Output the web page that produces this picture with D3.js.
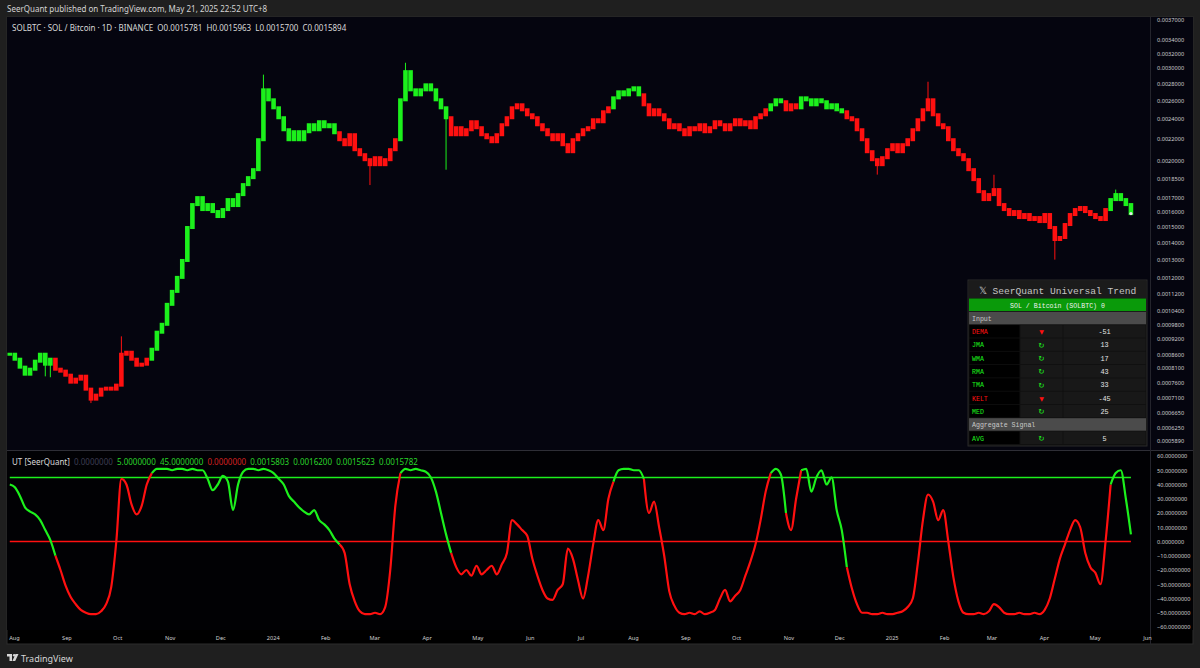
<!DOCTYPE html>
<html lang="en">
<head>
<meta charset="UTF-8">
<title>SOLBTC - SeerQuant Universal Trend</title>
<script src="https://d3js.org/d3.v7.min.js"></script>
<style>
    body {
        margin: 0;
        padding: 0;
        background-color: #1f1f1f;
        overflow: hidden;
    }
    svg { display: block; }
    text { font-family: "Noto Sans", "Liberation Sans", sans-serif; }
    .mono text { font-family: "Liberation Mono", "DejaVu Sans Mono", monospace; }
</style>
</head>
<body>
<script>
// ---- data ----
// 3-day candles starting 2023-07-28, closes in units of 1e-7 BTC
const candleStart = "2023-07-28";
const candleStepDays = 3;
const closes = [
    8602, 8417, 8130, 7885, 8058, 8345, 8602, 8236, 8417, 8058,
    7990, 7850, 7615, 7715, 7815, 7386, 7071, 7195, 7386, 7418,
    7386, 7516, 8602, 8677, 8417, 8200, 8236, 8417, 8791, 9470,
    9803, 10695, 11318, 12030, 12953, 14955, 16531, 17040, 16175, 16531,
    16035, 15690, 16175, 16895, 16460, 17267, 18036, 18594, 19253, 21941,
    27279, 26116, 25220, 24150, 22917, 21941, 22720, 21941, 22720, 23422,
    22917, 23730, 23220, 23422, 22620, 21941, 21468, 22424, 21006, 20553,
    20110, 19677, 20285, 19677, 20110, 21006, 21941, 26116, 29530, 27279,
    26691, 27279, 27880, 27279, 26116, 25220, 24150, 22424, 23120, 22424,
    22917, 23730, 23120, 22424, 22130, 21750, 22424, 23422, 24150, 25220,
    25553, 25003, 24464, 24150, 23422, 22917, 22424, 21941, 22424, 21468,
    20823, 21941, 22424, 22917, 23120, 23937, 23730, 24785, 25220, 26340,
    27040, 26691, 27279, 27520, 26691, 25553, 24464, 25003, 24464, 23937,
    23120, 23422, 22917, 22424, 23120, 22917, 23422, 22720, 23120, 23730,
    23422, 22917, 23422, 23937, 23422, 23730, 23120, 24150, 24464, 25003,
    25553, 26116, 25895, 25003, 25553, 25220, 26340, 26116, 25553, 26116,
    25895, 25220, 25553, 25003, 24785, 24150, 23937, 22917, 21941, 20823,
    20110, 19677, 20285, 21006, 21468, 20823, 21468, 21941, 22917, 23937,
    25003, 26116, 24464, 23422, 23120, 21941, 21006, 20553, 20110, 19253,
    18433, 17490, 16895, 17267, 17647, 16531, 16175, 15827, 16035, 15620,
    15827, 15486, 15620, 15350, 15827, 14955, 14194, 14318, 15152, 15827,
    16175, 16320, 16035, 15827, 15620, 15486, 16175, 16895, 17267, 16895,
    16531, 15894
];
// [candle index, wick extreme] for the visible long wicks
const wickSpikes = [
    [7, 7810], [8, 7780], [16, 6950], [22, 9300], [50, 29150], [71, 18000],
    [78, 30700], [86, 19250], [171, 18840], [181, 28260], [194, 18830],
    [206, 13000], [218, 17650]
];
// UT [SeerQuant] oscillator, one value per candle
const utValues = [
    40, 38, 32, 24, 21, 19, 15, 8, 1, -10,
    -20, -31, -39, -44, -48, -50, -51, -51, -49, -44,
    -32, 0, 44, 40, 26, 19, 25, 40, 48, 51,
    51, 51, 50, 51, 51, 50, 51, 50, 50, 44,
    36, 40, 46, 42, 22, 40, 49, 51, 51, 50,
    51, 50, 48, 44, 40, 32, 28, 24, 21, 19,
    22, 15, 12, 8, 2, -2, -8, -30, -42, -49,
    -51, -51, -50, -51, -46, -20, 25, 48, 51, 50,
    51, 50, 49, 45, 35, 20, 5, -8, -18, -23,
    -20, -24, -17, -23, -20, -17, -23, -16, -8, 15,
    12, 8, 4, -12, -24, -34, -40, -41, -34, -30,
    -5, -12, -27, -40, -24, -2, 15, 8, 30, 42,
    50, 51, 51, 50, 50, 44, 20, 28, 10, -10,
    -35, -45, -50, -51, -50, -51, -49, -51, -50, -48,
    -40, -34, -42, -38, -34, -24, -14, -2, 15, 35,
    48, 51, 47, 20, 8, 30, 50, 51, 35, 45,
    50, 40, 45, 22, 8, -18, -33, -44, -50, -50,
    -51, -51, -50, -51, -51, -50, -49, -46, -40, -15,
    15, 33, 28, 15, 22, 0, -25, -42, -50, -51,
    -51, -50, -51, -49, -44, -46, -50, -51, -51, -50,
    -51, -51, -50, -51, -48, -40, -26, -12, -2, 8,
    15, 10, -8, -18, -22, -30, 0, 40, 48, 50,
    30, 5
];
// periods where the trend state is long (green)
const greenRegimes = [
    ["2023-07-28", "2023-08-21"], ["2023-10-20", "2024-02-06"],
    ["2024-03-14", "2024-04-12"], ["2024-07-19", "2024-08-05"],
    ["2024-10-19", "2024-10-27"], ["2024-11-06", "2024-12-02"],
    ["2025-05-09", "2025-05-21"]
];
const utLevels = { upper: 45, zero: 0 };

const priceTicks = [0.0037, 0.0034, 0.0032, 0.0030, 0.0028, 0.0026, 0.0024, 0.0022,
    0.0020, 0.00185, 0.0017, 0.0016, 0.0015, 0.0014, 0.0013, 0.0012, 0.00112,
    0.00104, 0.00098, 0.00092, 0.00086, 0.00081, 0.00076, 0.00071, 0.000665,
    0.000625, 0.000589];
const utTicks = [60, 50, 40, 30, 20, 10, 0, -10, -20, -30, -40, -50, -60];
const monthStart = "2023-08-01";
const monthLabels = ["Aug", "Sep", "Oct", "Nov", "Dec", "2024", "Feb", "Mar", "Apr", "May",
    "Jun", "Jul", "Aug", "Sep", "Oct", "Nov", "Dec", "2025", "Feb", "Mar", "Apr", "May", "Jun"];

const utLegend = [
    ["0.0000000", "#3d3d52"], ["5.0000000", "#2ad42a"], ["45.0000000", "#2ad42a"],
    ["0.0000000", "#d42020"], ["0.0015803", "#2ad42a"], ["0.0016200", "#2ad42a"],
    ["0.0015623", "#2ad42a"], ["0.0015782", "#2ad42a"]
];

const tableTitle = "𝕏 SeerQuant Universal Trend";
const tableSymbol = "SOL / Bitcoin (SOLBTC) 0";
const maNames = ["DEMA", "JMA", "WMA", "RMA", "TMA", "KELT", "MED"];
const maScores = [-51, 13, 17, 43, 33, -45, 25];
const avgScore = 5;

// ---- layout ----
const W = 1200, H = 668;
const GREEN = "#1cf01c", RED = "#ff1010";
const frame = { l: 7, r: 1193, t: 17, b: 644 };
const axisX = 1150;
const mainB = 450, utT = 451, utB = 630;

const svg = d3.select("body").append("svg").attr("width", W).attr("height", H);

svg.append("text").attr("x", 7).attr("y", 12).attr("font-size", 8).attr("fill", "#d4d4d4")
    .text("SeerQuant published on TradingView.com, May 21, 2025 22:52 UTC+8");

// pane backgrounds
svg.append("rect").attr("x", frame.l).attr("y", frame.t).attr("width", frame.r - frame.l)
    .attr("height", frame.b - frame.t).attr("fill", "#000").attr("stroke", "#2c2c2c");
svg.append("rect").attr("x", frame.l).attr("y", frame.t).attr("width", frame.r - frame.l)
    .attr("height", mainB - frame.t).attr("fill", "#05050f");
svg.append("rect").attr("x", frame.l).attr("y", utT).attr("width", frame.r - frame.l)
    .attr("height", utB - utT).attr("fill", "#010104");
svg.append("line").attr("x1", frame.l).attr("x2", frame.r).attr("y1", mainB + 0.5).attr("y2", mainB + 0.5)
    .attr("stroke", "#2e2e36");
svg.append("line").attr("x1", axisX + 0.5).attr("x2", axisX + 0.5).attr("y1", frame.t).attr("y2", frame.b)
    .attr("stroke", "#24242c");

const defs = svg.append("defs");
defs.append("clipPath").attr("id", "clipMain").append("rect")
    .attr("x", frame.l).attr("y", frame.t).attr("width", axisX - frame.l).attr("height", mainB - frame.t);
defs.append("clipPath").attr("id", "clipUt").append("rect")
    .attr("x", frame.l).attr("y", utT).attr("width", axisX - frame.l).attr("height", utB - utT);

const parse = d3.timeParse("%Y-%m-%d");
const x = d3.scaleTime().domain([parse("2023-08-01"), parse("2025-06-01")]).range([14, 1147]);
const yPrice = d3.scaleLog().domain([0.000589, 0.0037]).range([441, 20]);
const yUt = d3.scaleLinear().domain([-60, 60]).range([627, 456]);

const candleDates = closes.map((c, i) => d3.timeDay.offset(parse(candleStart), i * candleStepDays));
const greenRanges = greenRegimes.map(([a, b]) => [parse(a), parse(b)]);
const isGreen = d => greenRanges.some(([a, b]) => d >= a && d <= b);
const cx = d => x(d3.timeHour.offset(d, 36));

// candles
const spikeMap = new Map(wickSpikes);
const candles = closes.map((c, i) => {
    const o = i > 0 ? closes[i - 1] : c;
    let hi = Math.max(o, c), lo = Math.min(o, c);
    const s = spikeMap.get(i);
    if (s !== undefined) { if (s > hi) hi = s; if (s < lo) lo = s; }
    return { d: candleDates[i], o: o * 1e-7, c: c * 1e-7, hi: hi * 1e-7, lo: lo * 1e-7, up: isGreen(candleDates[i]) };
});

const gMain = svg.append("g").attr("clip-path", "url(#clipMain)");
gMain.selectAll(".wick").data(candles).enter().append("line")
    .attr("x1", d => cx(d.d)).attr("x2", d => cx(d.d))
    .attr("y1", d => yPrice(d.hi)).attr("y2", d => yPrice(d.lo))
    .attr("stroke", d => d.up ? GREEN : RED).attr("stroke-width", 1);
gMain.selectAll(".body").data(candles).enter().append("rect")
    .attr("x", d => cx(d.d) - 2.3).attr("width", 4.6)
    .attr("y", d => yPrice(Math.max(d.o, d.c)) - 1.5)
    .attr("height", d => yPrice(Math.min(d.o, d.c)) - yPrice(Math.max(d.o, d.c)) + 3)
    .attr("fill", d => d.up ? GREEN : RED);
const last = candles[candles.length - 1];
gMain.append("circle").attr("cx", cx(last.d)).attr("cy", yPrice(last.c)).attr("r", 1.6).attr("fill", "#e8e8e8");

// main pane legend
svg.append("text").attr("x", 12).attr("y", 31).attr("font-size", 8).attr("fill", "#d8d8d8")
    .text("SOLBTC · SOL / Bitcoin · 1D · BINANCE  O0.0015781  H0.0015963  L0.0015700  C0.0015894")
    .attr("xml:space", "preserve");

// price axis
const pAxis = svg.append("g").attr("transform", `translate(${axisX + 6},0)`)
    .call(d3.axisRight(yPrice).tickValues(priceTicks).tickFormat(d3.format(".7f")).tickSize(0));
pAxis.select(".domain").remove();
pAxis.selectAll("text").attr("font-size", 5.6).attr("fill", "#cfcfcf").attr("x", 1);

// UT pane
const gUt = svg.append("g").attr("clip-path", "url(#clipUt)");
const xFirst = cx(candleDates[0]) , xLast = cx(candleDates[candleDates.length - 1]);
gUt.append("line").attr("x1", xFirst).attr("x2", xLast)
    .attr("y1", yUt(utLevels.upper)).attr("y2", yUt(utLevels.upper))
    .attr("stroke", GREEN).attr("stroke-width", 1.5);
gUt.append("line").attr("x1", xFirst).attr("x2", xLast)
    .attr("y1", yUt(utLevels.zero)).attr("y2", yUt(utLevels.zero))
    .attr("stroke", RED).attr("stroke-width", 1.5);

const utPts = utValues.map((v, i) => ({ d: candleDates[i], v, up: isGreen(candleDates[i]) }));
const runs = [];
let cur = [utPts[0]];
for (let i = 1; i < utPts.length; i++) {
    cur.push(utPts[i]);
    if (utPts[i].up !== utPts[i - 1].up) {
        runs.push({ up: utPts[i - 1].up, pts: cur });
        cur = [utPts[i]];
    }
}
runs.push({ up: cur[0].up, pts: cur });

const utLine = d3.line().x(d => cx(d.d)).y(d => yUt(d.v)).curve(d3.curveMonotoneX);
gUt.selectAll(".ut").data(runs).enter().append("path")
    .attr("d", r => utLine(r.pts)).attr("fill", "none")
    .attr("stroke", r => r.up ? GREEN : RED).attr("stroke-width", 2.2)
    .attr("stroke-linejoin", "round");

const uAxis = svg.append("g").attr("transform", `translate(${axisX + 6},0)`)
    .call(d3.axisRight(yUt).tickValues(utTicks).tickFormat(d3.format(".7f")).tickSize(0));
uAxis.select(".domain").remove();
uAxis.selectAll("text").attr("font-size", 5.6).attr("fill", "#cfcfcf").attr("x", 1);

// UT legend
const leg = svg.append("text").attr("x", 12).attr("y", 465).attr("font-size", 8).attr("xml:space", "preserve");
leg.append("tspan").attr("fill", "#d8d8d8").text("UT [SeerQuant] ");
utLegend.forEach(([t, c]) => leg.append("tspan").attr("fill", c).text(" " + t + " "));

// time axis
const monthDates = monthLabels.map((m, i) => d3.timeMonth.offset(parse(monthStart), i));
const tAxis = svg.append("g").attr("transform", `translate(0,${utB + 3})`)
    .call(d3.axisBottom(x).tickValues(monthDates).tickFormat((d, i) => monthLabels[i]).tickSize(0));
tAxis.select(".domain").remove();
tAxis.selectAll("text").attr("font-size", 5.6).attr("fill", "#d0d0d0");

// table
const tbl = svg.append("g").attr("class", "mono");
const tX = 969, colW = [51, 43, 83], tW = 177, rowH = 13.3;
tbl.append("rect").attr("x", tX - 1).attr("y", 280).attr("width", tW + 2).attr("height", 166)
    .attr("fill", "#101010").attr("stroke", "#2a2a2a");
tbl.append("rect").attr("x", tX).attr("y", 281).attr("width", tW).attr("height", 17).attr("fill", "#1b1b1b");
tbl.append("text").attr("x", tX + tW / 2).attr("y", 293.5).attr("text-anchor", "middle")
    .attr("font-size", 9.6).attr("fill", "#c4c4c4").text(tableTitle);

const rows = [{ kind: "symbol" }, { kind: "section", label: "Input" }]
    .concat(maNames.map((n, i) => ({ kind: "ma", label: n, score: maScores[i] })))
    .concat([{ kind: "section", label: "Aggregate Signal" }, { kind: "ma", label: "AVG", score: avgScore }]);

rows.forEach((r, k) => {
    const y0 = 298.5 + k * rowH;
    const g = tbl.append("g");
    if (r.kind === "symbol") {
        g.append("rect").attr("x", tX).attr("y", y0).attr("width", tW).attr("height", rowH - 0.8).attr("fill", "#0a9a0a");
        g.append("text").attr("x", tX + tW / 2).attr("y", y0 + 9).attr("text-anchor", "middle")
            .attr("font-size", 6.6).attr("fill", "#f0f0f0").text(tableSymbol);
    } else if (r.kind === "section") {
        g.append("rect").attr("x", tX).attr("y", y0).attr("width", tW).attr("height", rowH - 0.8).attr("fill", "#4b4b4b");
        g.append("text").attr("x", tX + 3).attr("y", y0 + 9).attr("font-size", 6.6).attr("fill", "#c8c8c8").text(r.label);
    } else {
        const c = r.score < 0 ? RED : GREEN;
        let xx = tX;
        colW.forEach((w, j) => {
            g.append("rect").attr("x", xx + 0.5).attr("y", y0).attr("width", w - 1).attr("height", rowH - 0.8)
                .attr("fill", j === 0 ? "#000" : "#181818");
            xx += w;
        });
        g.append("text").attr("x", tX + 3).attr("y", y0 + 9).attr("font-size", 6.6).attr("fill", c).text(r.label);
        g.append("text").attr("x", tX + colW[0] + colW[1] / 2).attr("y", y0 + 9.2).attr("text-anchor", "middle")
            .attr("font-size", r.score < 0 ? 6 : 7.5).attr("fill", c)
            .style("font-family", "DejaVu Sans").text(r.score < 0 ? "▼" : "↻");
        g.append("text").attr("x", tX + colW[0] + colW[1] + colW[2] / 2).attr("y", y0 + 9).attr("text-anchor", "middle")
            .attr("font-size", 6.8).attr("fill", "#e6e6e6").text(r.score);
    }
});

// footer logo
const logo = svg.append("g").attr("transform", "translate(7,654)").attr("fill", "#d6d6d6");
logo.append("path").attr("d", "M0,0 H5 V7 H2.5 V2.4 H0 Z");
logo.append("circle").attr("cx", 7.2).attr("cy", 1.3).attr("r", 1.3);
logo.append("path").attr("d", "M8.5,0 H11.5 L8.2,7 H5.4 Z");
svg.append("text").attr("x", 21).attr("y", 661.5).attr("font-size", 9).attr("fill", "#d6d6d6").text("TradingView");
</script>
</body>
</html>
